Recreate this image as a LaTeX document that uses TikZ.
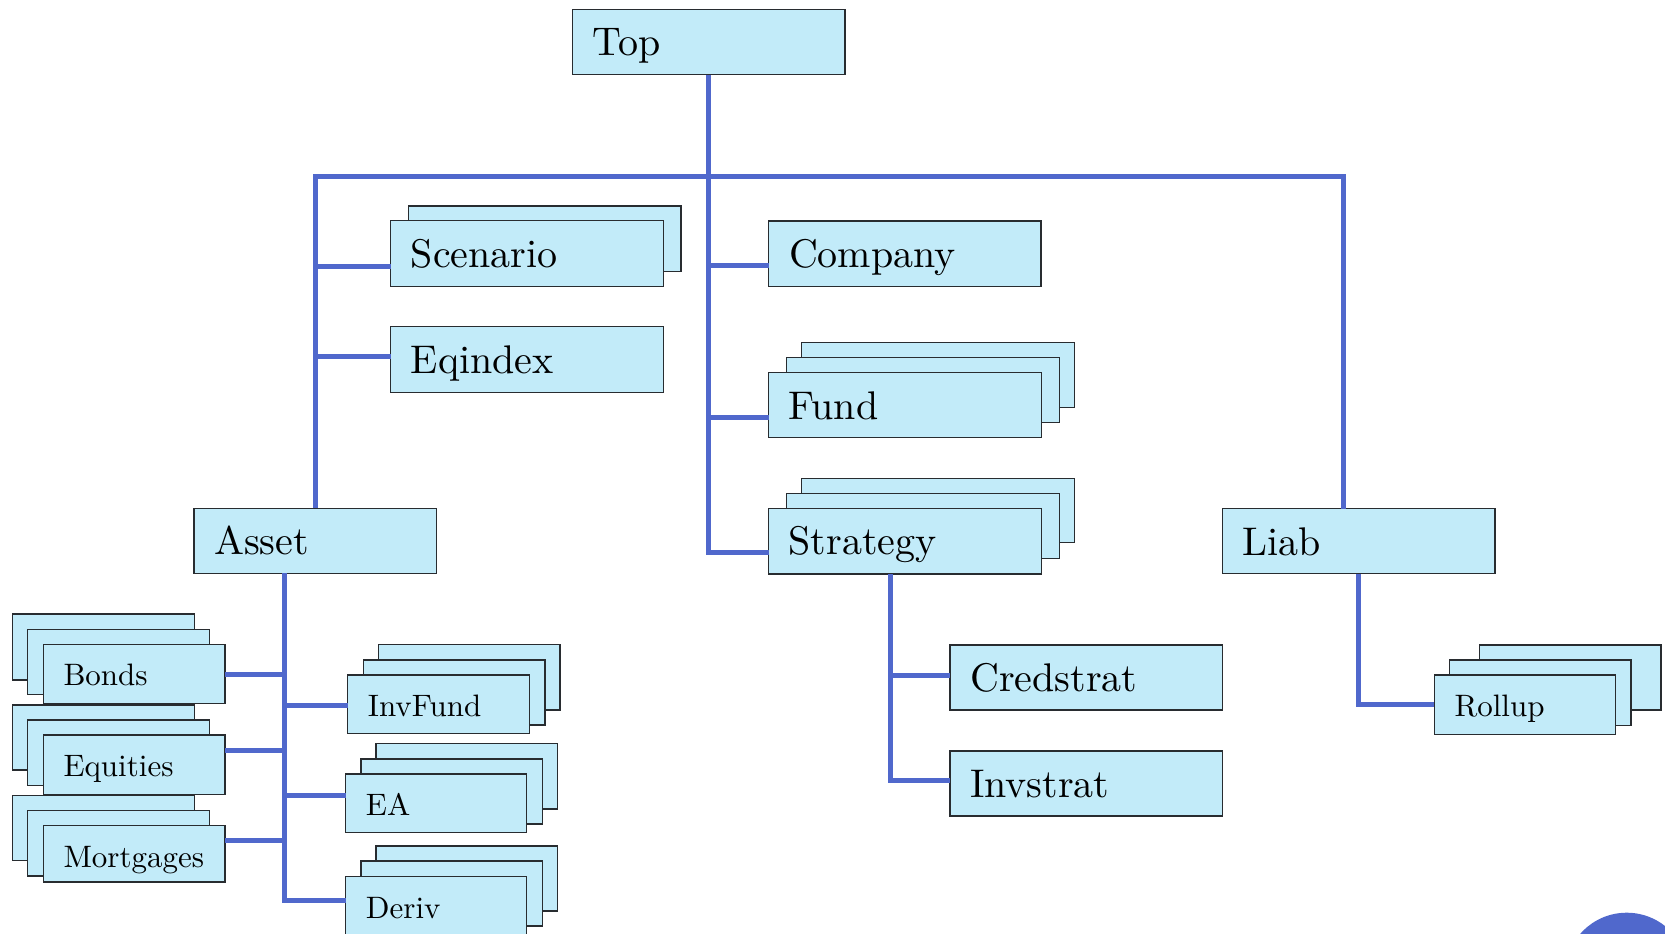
\documentclass[tikz,border=0pt]{standalone}
\usepackage{fontspec}
\setmainfont{lmroman10-regular.otf}
\usetikzlibrary{calc}

\definecolor{wireblue}{RGB}{80,104,204}
\definecolor{cardfill}{RGB}{194,235,249}
\definecolor{cardline}{RGB}{40,44,48}

\tikzset{
  card/.style={draw=cardline, fill=cardfill, line width=1.2pt,
    inner sep=0pt, outer sep=0pt, anchor=north west},
  bigtext/.style={anchor=base west, inner sep=0pt, font=\fontsize{40}{44}\selectfont},
  smalltext/.style={anchor=base west, inner sep=0pt, font=\fontsize{31}{35}\selectfont},
  wire/.style={draw=wireblue, line width=5pt, line join=miter},
}

% \cardbox{name}{left}{top}{right}{bottom}
\newcommand\cardbox[5]{%
  \node[card, minimum width={(#4-#2)*1pt}, minimum height={(#5-#3)*1pt}] (#1) at (#2,#3) {};}
% \biglabel{name}{text}, \smalllabel{name}{text}
\newcommand\biglabel[2]{%
  \node[bigtext] (#1-text) at ([xshift=20pt,yshift=-46.5pt]#1.north west) {#2};}
\newcommand\smalllabel[2]{%
  \node[smalltext] (#1-text) at ([xshift=20pt,yshift=-41.5pt]#1.north west) {#2};}

\begin{document}
\begin{tikzpicture}[x=1pt,y=-1pt]
\useasboundingbox (0,0) rectangle (1665,934);
\clip (0,0) rectangle (1665,934);

% ---- top level
\cardbox{top}{572.3}{9.3}{845}{74.7}
\biglabel{top}{Top}

% ---- left column under the bus
\cardbox{scenario-b1}{408.3}{206}{681}{271.7}
\cardbox{scenario}{390.7}{220.7}{663.3}{286.7}
\biglabel{scenario}{Scenario}
\cardbox{eqindex}{390.7}{326.7}{663.3}{392.3}
\biglabel{eqindex}{Eqindex}

% ---- middle column
\cardbox{company}{768.8}{221}{1041}{286.7}
\biglabel{company}{Company}

\cardbox{fund-b2}{801.7}{342.3}{1074.3}{407.7}
\cardbox{fund-b1}{786.7}{357.7}{1059.3}{422.3}
\cardbox{fund}{768.5}{372.7}{1041.5}{437.7}
\biglabel{fund}{Fund}

\cardbox{strategy-b2}{801.7}{478.3}{1074.3}{542.3}
\cardbox{strategy-b1}{786.7}{493.3}{1059.3}{558.3}
\cardbox{strategy}{768.5}{508.3}{1041.5}{574}
\biglabel{strategy}{Strategy}

\cardbox{credstrat}{950}{645}{1222.7}{710}
\biglabel{credstrat}{Credstrat}
\cardbox{invstrat}{950}{751}{1222.7}{816}
\biglabel{invstrat}{Invstrat}

% ---- asset branch
\cardbox{asset}{194}{508.3}{436.3}{573.3}
\biglabel{asset}{Asset}

\cardbox{bonds-b2}{12.7}{614}{194.3}{680}
\cardbox{bonds-b1}{27.7}{629.3}{209.3}{694.7}
\cardbox{bonds}{43.3}{644.3}{225}{703.7}
\smalllabel{bonds}{Bonds}

\cardbox{equities-b2}{12.7}{705}{194.3}{770}
\cardbox{equities-b1}{27.7}{720}{209.3}{785.3}
\cardbox{equities}{43.3}{735}{225}{794.3}
\smalllabel{equities}{Equities}

\cardbox{mortgages-b2}{12.7}{795.7}{194.3}{860.7}
\cardbox{mortgages-b1}{27.7}{810.7}{209.3}{876}
\cardbox{mortgages}{43.3}{825.7}{225}{882}
\smalllabel{mortgages}{Mortgages}

\cardbox{invfund-b2}{378.7}{644.7}{560}{710}
\cardbox{invfund-b1}{363.3}{660}{545}{725}
\cardbox{invfund}{347.7}{675}{529.3}{733.7}
\smalllabel{invfund}{InvFund}

\cardbox{ea-b2}{376}{743.7}{557.7}{809}
\cardbox{ea-b1}{361}{759}{542.3}{824}
\cardbox{ea}{345.7}{774}{526.7}{832.3}
\smalllabel{ea}{EA}

\cardbox{deriv-b2}{376}{846}{557.7}{911}
\cardbox{deriv-b1}{361}{861}{542.3}{926}
\cardbox{deriv}{345.7}{876.7}{526.7}{935.7}
\smalllabel{deriv}{Deriv}

% ---- liability branch
\cardbox{liab}{1222.3}{508.7}{1495}{573.7}
\biglabel{liab}{Liab}

\cardbox{rollup-b2}{1479.3}{645}{1661}{710}
\cardbox{rollup-b1}{1449.3}{660}{1631}{725.7}
\cardbox{rollup}{1434.3}{675}{1615.7}{734.3}
\smalllabel{rollup}{Rollup}

% ---- connection points
\coordinate (busL) at (315.5,176);
\coordinate (busR) at (1343.3,176);
\coordinate (scenario-in) at ([yshift=-45.3pt]scenario.north west);
\coordinate (eqindex-in)  at ([yshift=-29.3pt]eqindex.north west);
\coordinate (company-in)  at ([yshift=-44.5pt]company.north west);
\coordinate (fund-in)     at ([yshift=-45pt]fund.north west);
\coordinate (strategy-in) at ([yshift=-44pt]strategy.north west);
\coordinate (asset-out)   at ([xshift=-30.2pt]asset.south);
\coordinate (bonds-out)   at ([yshift=-30pt]bonds.north east);
\coordinate (equities-out) at ([yshift=-15pt]equities.north east);
\coordinate (mortgages-out) at ([yshift=-14.3pt]mortgages.north east);
\coordinate (invfund-in)  at ([yshift=-30pt]invfund.north west);
\coordinate (ea-in)       at ([yshift=-21.7pt]ea.north west);
\coordinate (deriv-in)    at ([yshift=-24pt]deriv.north west);
\coordinate (strategy-out) at ([xshift=-15pt]strategy.south);
\coordinate (credstrat-in) at ([yshift=-30pt]credstrat.north west);
\coordinate (invstrat-in)  at ([yshift=-29pt]invstrat.north west);
\coordinate (rollup-in)    at ([yshift=-29.3pt]rollup.north west);

% ---- connectors
\draw[wire] (busL |- asset.north) -- (busL) -- (busR) -- (busR |- liab.north);
\draw[wire] (top.south) |- (strategy-in);
\draw[wire] (company-in) -- (top.south |- company-in);
\draw[wire] (fund-in) -- (top.south |- fund-in);
\draw[wire] (scenario-in) -- (busL |- scenario-in);
\draw[wire] (eqindex-in) -- (busL |- eqindex-in);

\draw[wire] (asset-out) |- (deriv-in);
\draw[wire] (bonds-out) -- (asset-out |- bonds-out);
\draw[wire] (equities-out) -- (asset-out |- equities-out);
\draw[wire] (mortgages-out) -- (asset-out |- mortgages-out);
\draw[wire] (invfund-in) -- (asset-out |- invfund-in);
\draw[wire] (ea-in) -- (asset-out |- ea-in);

\draw[wire] (strategy-out) |- (invstrat-in);
\draw[wire] (credstrat-in) -- (strategy-out |- credstrat-in);

\draw[wire] (liab.south) |- (rollup-in);

% ---- round badge in the corner
\fill[wireblue] (1626.7,974.5) circle[radius=61.8pt];
\end{tikzpicture}
\end{document}
